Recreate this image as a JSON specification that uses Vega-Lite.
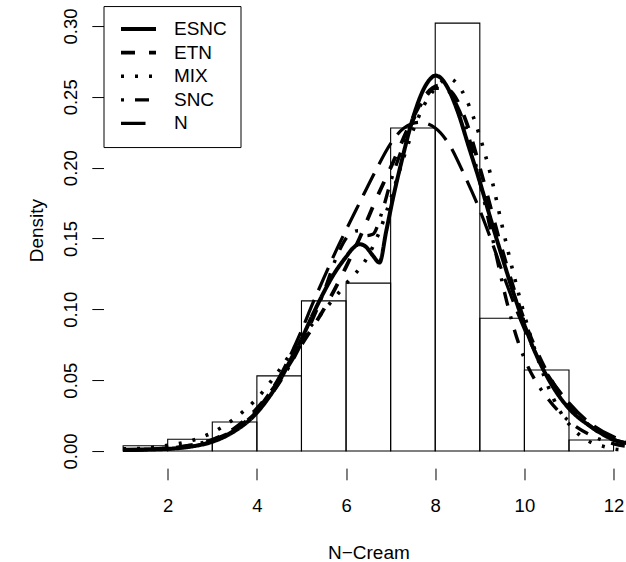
{
  "$schema": "https://vega.github.io/schema/vega-lite/v6.json",
  "autosize": {"type": "none"},
  "padding": {"left": 103.5, "top": 6.05, "right": 0, "bottom": 94},
  "width": 522.5,
  "height": 462.06,
  "background": "white",
  "config": {
    "view": {"stroke": null},
    "font": "Liberation Sans",
    "axis": {"labelFont": "Liberation Sans", "titleFont": "Liberation Sans", "labelColor": "black", "titleColor": "black", "tickColor": "black", "grid": false, "domain": false, "tickSize": 11.7, "tickWidth": 1, "labelFontSize": 18.5, "titleFontSize": 19, "titleFontWeight": "normal", "labelFlush": false, "labelOverlap": false}
  },
  "datasets": {
    "bars": [
      {"lo": 1, "hi": 2, "density": 0.0037},
      {"lo": 2, "hi": 3, "density": 0.0083},
      {"lo": 3, "hi": 4, "density": 0.0205},
      {"lo": 4, "hi": 5, "density": 0.053},
      {"lo": 5, "hi": 6, "density": 0.106},
      {"lo": 6, "hi": 7, "density": 0.1185},
      {"lo": 7, "hi": 8, "density": 0.228},
      {"lo": 8, "hi": 9, "density": 0.302},
      {"lo": 9, "hi": 10, "density": 0.0937},
      {"lo": 10, "hi": 11, "density": 0.0572},
      {"lo": 11, "hi": 12, "density": 0.0078}
    ],
    "curves": [
      {"model": "ESNC", "x": 1.0, "d": 0.0008}, {"model": "ESNC", "x": 1.5, "d": 0.001}, {"model": "ESNC", "x": 2.0, "d": 0.0015}, {"model": "ESNC", "x": 2.5, "d": 0.003}, {"model": "ESNC", "x": 3.0, "d": 0.0065}, {"model": "ESNC", "x": 3.5, "d": 0.014}, {"model": "ESNC", "x": 4.0, "d": 0.027}, {"model": "ESNC", "x": 4.25, "d": 0.037}, {"model": "ESNC", "x": 4.5, "d": 0.049}, {"model": "ESNC", "x": 4.75, "d": 0.064}, {"model": "ESNC", "x": 5.0, "d": 0.079}, {"model": "ESNC", "x": 5.25, "d": 0.096}, {"model": "ESNC", "x": 5.5, "d": 0.112}, {"model": "ESNC", "x": 5.75, "d": 0.126}, {"model": "ESNC", "x": 6.0, "d": 0.137}, {"model": "ESNC", "x": 6.15, "d": 0.143}, {"model": "ESNC", "x": 6.3, "d": 0.146}, {"model": "ESNC", "x": 6.45, "d": 0.144}, {"model": "ESNC", "x": 6.6, "d": 0.138}, {"model": "ESNC", "x": 6.75, "d": 0.133}, {"model": "ESNC", "x": 6.9, "d": 0.155}, {"model": "ESNC", "x": 7.05, "d": 0.178}, {"model": "ESNC", "x": 7.25, "d": 0.205}, {"model": "ESNC", "x": 7.5, "d": 0.235}, {"model": "ESNC", "x": 7.75, "d": 0.256}, {"model": "ESNC", "x": 7.9, "d": 0.263}, {"model": "ESNC", "x": 8.0, "d": 0.265}, {"model": "ESNC", "x": 8.1, "d": 0.264}, {"model": "ESNC", "x": 8.25, "d": 0.258}, {"model": "ESNC", "x": 8.5, "d": 0.24}, {"model": "ESNC", "x": 8.75, "d": 0.215}, {"model": "ESNC", "x": 9.0, "d": 0.19}, {"model": "ESNC", "x": 9.25, "d": 0.163}, {"model": "ESNC", "x": 9.5, "d": 0.137}, {"model": "ESNC", "x": 9.75, "d": 0.112}, {"model": "ESNC", "x": 10.0, "d": 0.089}, {"model": "ESNC", "x": 10.25, "d": 0.069}, {"model": "ESNC", "x": 10.5, "d": 0.053}, {"model": "ESNC", "x": 10.75, "d": 0.04}, {"model": "ESNC", "x": 11.0, "d": 0.03}, {"model": "ESNC", "x": 11.5, "d": 0.017}, {"model": "ESNC", "x": 12.0, "d": 0.008}, {"model": "ESNC", "x": 12.4, "d": 0.005},
      {"model": "ETN", "x": 1.0, "d": 0.0008}, {"model": "ETN", "x": 2.0, "d": 0.002}, {"model": "ETN", "x": 2.5, "d": 0.004}, {"model": "ETN", "x": 3.0, "d": 0.008}, {"model": "ETN", "x": 3.5, "d": 0.016}, {"model": "ETN", "x": 4.0, "d": 0.03}, {"model": "ETN", "x": 4.5, "d": 0.05}, {"model": "ETN", "x": 5.0, "d": 0.075}, {"model": "ETN", "x": 5.5, "d": 0.1}, {"model": "ETN", "x": 6.0, "d": 0.13}, {"model": "ETN", "x": 6.3, "d": 0.15}, {"model": "ETN", "x": 6.65, "d": 0.176}, {"model": "ETN", "x": 7.0, "d": 0.2}, {"model": "ETN", "x": 7.5, "d": 0.235}, {"model": "ETN", "x": 7.8, "d": 0.252}, {"model": "ETN", "x": 8.1, "d": 0.258}, {"model": "ETN", "x": 8.4, "d": 0.252}, {"model": "ETN", "x": 8.7, "d": 0.232}, {"model": "ETN", "x": 9.0, "d": 0.2}, {"model": "ETN", "x": 9.5, "d": 0.142}, {"model": "ETN", "x": 10.0, "d": 0.092}, {"model": "ETN", "x": 10.5, "d": 0.056}, {"model": "ETN", "x": 11.0, "d": 0.032}, {"model": "ETN", "x": 11.5, "d": 0.017}, {"model": "ETN", "x": 12.0, "d": 0.008}, {"model": "ETN", "x": 12.4, "d": 0.005},
      {"model": "MIX", "x": 1.0, "d": 0.0015}, {"model": "MIX", "x": 1.5, "d": 0.002}, {"model": "MIX", "x": 2.0, "d": 0.004}, {"model": "MIX", "x": 2.5, "d": 0.007}, {"model": "MIX", "x": 3.0, "d": 0.013}, {"model": "MIX", "x": 3.5, "d": 0.023}, {"model": "MIX", "x": 4.0, "d": 0.037}, {"model": "MIX", "x": 4.5, "d": 0.057}, {"model": "MIX", "x": 5.0, "d": 0.08}, {"model": "MIX", "x": 5.5, "d": 0.099}, {"model": "MIX", "x": 6.0, "d": 0.118}, {"model": "MIX", "x": 6.5, "d": 0.138}, {"model": "MIX", "x": 6.75, "d": 0.155}, {"model": "MIX", "x": 7.0, "d": 0.178}, {"model": "MIX", "x": 7.25, "d": 0.203}, {"model": "MIX", "x": 7.5, "d": 0.226}, {"model": "MIX", "x": 7.75, "d": 0.244}, {"model": "MIX", "x": 8.0, "d": 0.256}, {"model": "MIX", "x": 8.3, "d": 0.263}, {"model": "MIX", "x": 8.5, "d": 0.259}, {"model": "MIX", "x": 8.7, "d": 0.248}, {"model": "MIX", "x": 9.0, "d": 0.222}, {"model": "MIX", "x": 9.25, "d": 0.194}, {"model": "MIX", "x": 9.5, "d": 0.159}, {"model": "MIX", "x": 9.75, "d": 0.126}, {"model": "MIX", "x": 10.0, "d": 0.096}, {"model": "MIX", "x": 10.25, "d": 0.07}, {"model": "MIX", "x": 10.5, "d": 0.048}, {"model": "MIX", "x": 10.8, "d": 0.028}, {"model": "MIX", "x": 11.0, "d": 0.019}, {"model": "MIX", "x": 11.25, "d": 0.011}, {"model": "MIX", "x": 11.5, "d": 0.006}, {"model": "MIX", "x": 11.8, "d": 0.003}, {"model": "MIX", "x": 12.1, "d": 0.001}, {"model": "MIX", "x": 12.4, "d": 0.0005},
      {"model": "SNC", "x": 1.0, "d": 0.0008}, {"model": "SNC", "x": 2.0, "d": 0.002}, {"model": "SNC", "x": 2.5, "d": 0.004}, {"model": "SNC", "x": 3.0, "d": 0.008}, {"model": "SNC", "x": 3.5, "d": 0.015}, {"model": "SNC", "x": 4.0, "d": 0.028}, {"model": "SNC", "x": 4.5, "d": 0.048}, {"model": "SNC", "x": 5.0, "d": 0.076}, {"model": "SNC", "x": 5.5, "d": 0.112}, {"model": "SNC", "x": 5.8, "d": 0.138}, {"model": "SNC", "x": 6.05, "d": 0.152}, {"model": "SNC", "x": 6.27, "d": 0.1555}, {"model": "SNC", "x": 6.45, "d": 0.152}, {"model": "SNC", "x": 6.6, "d": 0.153}, {"model": "SNC", "x": 6.8, "d": 0.168}, {"model": "SNC", "x": 7.0, "d": 0.19}, {"model": "SNC", "x": 7.25, "d": 0.213}, {"model": "SNC", "x": 7.5, "d": 0.233}, {"model": "SNC", "x": 7.75, "d": 0.248}, {"model": "SNC", "x": 8.0, "d": 0.256}, {"model": "SNC", "x": 8.2, "d": 0.256}, {"model": "SNC", "x": 8.5, "d": 0.243}, {"model": "SNC", "x": 8.75, "d": 0.222}, {"model": "SNC", "x": 9.0, "d": 0.19}, {"model": "SNC", "x": 9.3, "d": 0.148}, {"model": "SNC", "x": 9.6, "d": 0.106}, {"model": "SNC", "x": 9.86, "d": 0.077}, {"model": "SNC", "x": 10.03, "d": 0.063}, {"model": "SNC", "x": 10.24, "d": 0.05}, {"model": "SNC", "x": 10.5, "d": 0.038}, {"model": "SNC", "x": 11.0, "d": 0.021}, {"model": "SNC", "x": 11.5, "d": 0.011}, {"model": "SNC", "x": 12.0, "d": 0.005}, {"model": "SNC", "x": 12.4, "d": 0.003},
      {"model": "N", "x": 1.0, "d": 0.0004}, {"model": "N", "x": 1.5, "d": 0.0007}, {"model": "N", "x": 2.0, "d": 0.0015}, {"model": "N", "x": 2.5, "d": 0.003}, {"model": "N", "x": 3.0, "d": 0.007}, {"model": "N", "x": 3.5, "d": 0.015}, {"model": "N", "x": 4.0, "d": 0.029}, {"model": "N", "x": 4.5, "d": 0.052}, {"model": "N", "x": 5.0, "d": 0.085}, {"model": "N", "x": 5.25, "d": 0.104}, {"model": "N", "x": 5.5, "d": 0.122}, {"model": "N", "x": 5.8, "d": 0.143}, {"model": "N", "x": 6.0, "d": 0.156}, {"model": "N", "x": 6.3, "d": 0.175}, {"model": "N", "x": 6.65, "d": 0.197}, {"model": "N", "x": 7.0, "d": 0.217}, {"model": "N", "x": 7.3, "d": 0.228}, {"model": "N", "x": 7.65, "d": 0.232}, {"model": "N", "x": 8.0, "d": 0.228}, {"model": "N", "x": 8.3, "d": 0.217}, {"model": "N", "x": 8.65, "d": 0.195}, {"model": "N", "x": 9.0, "d": 0.17}, {"model": "N", "x": 9.3, "d": 0.145}, {"model": "N", "x": 9.6, "d": 0.118}, {"model": "N", "x": 10.0, "d": 0.086}, {"model": "N", "x": 10.5, "d": 0.055}, {"model": "N", "x": 11.0, "d": 0.034}, {"model": "N", "x": 11.5, "d": 0.019}, {"model": "N", "x": 12.0, "d": 0.01}, {"model": "N", "x": 12.4, "d": 0.006}
    ]
  },
  "layer": [
    {
      "data": {"name": "bars"},
      "mark": {"type": "rect", "filled": false, "stroke": "black", "strokeWidth": 1.1},
      "encoding": {
        "x": {"field": "lo", "type": "quantitative", "scale": {"domain": [0.56, 12.2786], "nice": false, "zero": false},
          "axis": {"values": [2, 4, 6, 8, 10, 12], "title": "N\u2212Cream", "labelBaseline": "alphabetic", "labelPadding": 31.2, "titleX": 264.9, "titleY": 90.2, "titleBaseline": "alphabetic", "titleAlign": "center", "titleAnchor": null}},
        "x2": {"field": "hi"},
        "y": {"field": "density", "type": "quantitative", "scale": {"domain": [-0.01208, 0.31408], "nice": false, "zero": false},
          "axis": {"values": [0, 0.05, 0.1, 0.15, 0.2, 0.25, 0.3], "format": ".2f", "title": "Density", "labelAngle": -90, "labelAlign": "center", "labelBaseline": "alphabetic", "labelPadding": 15.8, "titleX": -61, "titleY": 224, "titleAngle": -90, "titleBaseline": "alphabetic", "titleAlign": "center", "titleAnchor": null}},
        "y2": {"datum": 0}
      }
    },
    {
      "mark": {"type": "rule", "color": "black", "strokeWidth": 1.1},
      "encoding": {"x": {"datum": 2}, "x2": {"datum": 12}, "y": {"datum": -0.01208}}
    },
    {
      "mark": {"type": "rule", "color": "black", "strokeWidth": 1.1},
      "encoding": {"x": {"datum": 0.56}, "y": {"datum": 0}, "y2": {"datum": 0.3}}
    },
    {
      "data": {"name": "curves"},
      "mark": {"type": "line", "color": "black", "interpolate": "monotone", "clip": true, "strokeCap": "butt", "strokeJoin": "round"},
      "encoding": {
        "x": {"field": "x", "type": "quantitative"},
        "y": {"field": "d", "type": "quantitative"},
        "strokeDash": {"field": "model", "type": "nominal",
          "scale": {"domain": ["ESNC", "ETN", "MIX", "SNC", "N"], "range": [[1, 0], [14, 14], [3, 11], [3, 11, 14, 11], [24.5, 10.5]]},
          "legend": {"orient": "none", "legendX": 0, "legendY": 0, "title": null, "symbolType": "stroke", "symbolSize": 1225, "symbolStrokeWidth": 3.5, "symbolStrokeColor": "black", "labelFontSize": 19, "labelFont": "Liberation Sans", "labelColor": "black", "labelOffset": 16, "padding": 13, "symbolOffset": 2.5, "strokeColor": "black", "fillColor": "white", "clipHeight": 20, "rowPadding": 3.6, "labelLimit": 0}},
        "strokeWidth": {"field": "model", "type": "nominal",
          "scale": {"domain": ["ESNC", "ETN", "MIX", "SNC", "N"], "range": [4, 3.2, 3.2, 3.2, 3.2]}, "legend": null}
      }
    }
  ]
}
